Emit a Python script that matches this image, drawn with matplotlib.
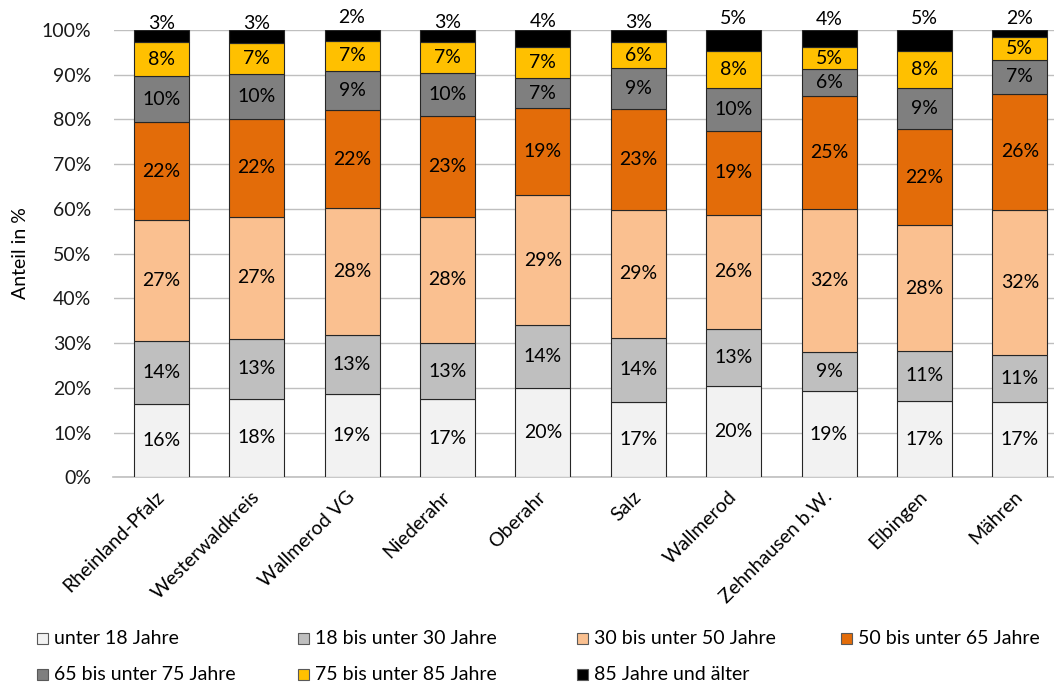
import matplotlib
matplotlib.use("Agg")
import matplotlib.pyplot as plt
from matplotlib.patches import Rectangle
from matplotlib.ticker import PercentFormatter, MultipleLocator

# Age structure by municipality (share of population, %)
categories = ["Rheinland-Pfalz", "Westerwaldkreis", "Wallmerod VG", "Niederahr",
              "Oberahr", "Salz", "Wallmerod", "Zehnhausen b.W.", "Elbingen", "Mähren"]

series_names = ["unter 18 Jahre", "18 bis unter 30 Jahre", "30 bis unter 50 Jahre",
                "50 bis unter 65 Jahre", "65 bis unter 75 Jahre", "75 bis unter 85 Jahre",
                "85 Jahre und älter"]

unter_18 = [16.3, 17.6, 18.7, 17.4, 19.9, 16.9, 20.4, 19.3, 17.0, 16.8]
von_18_bis_30 = [14.1, 13.4, 13.1, 12.7, 14.1, 14.3, 12.7, 8.7, 11.3, 10.6]
von_30_bis_50 = [27.1, 27.3, 28.3, 28.1, 29.1, 28.6, 25.6, 32.0, 28.0, 32.3]
von_50_bis_65 = [21.9, 21.8, 22.0, 22.6, 19.4, 22.6, 18.8, 25.2, 21.6, 26.1]
von_65_bis_75 = [10.3, 10.0, 8.7, 9.6, 6.7, 9.0, 9.6, 6.0, 9.1, 7.4]
von_75_bis_85 = [7.6, 7.1, 6.8, 7.0, 7.1, 6.0, 8.2, 4.9, 8.2, 5.2]
ab_85 = [2.7, 2.8, 2.4, 2.6, 3.7, 2.6, 4.7, 3.9, 4.8, 1.6]

series_values = [unter_18, von_18_bis_30, von_30_bis_50, von_50_bis_65,
                 von_65_bis_75, von_75_bis_85, ab_85]

colors = ["#F2F2F2", "#BFBFBF", "#FAC090", "#E36C09", "#7F7F7F", "#FFC000", "#000000"]

# extra lift (pixels) of the top-segment labels above the bar
top_label_lift = [0, 0, 6, 1, 2, 1, 5, 4, 5, 5]

FONT = "Lato"
FS = 14
plt.rcParams["font.family"] = [FONT, "DejaVu Sans"]

W, H = 1054, 686
fig = plt.figure(figsize=(W / 100, H / 100), dpi=100)
ax_left, ax_right = 113.5, 1054.0
ax_top, ax_bottom = 30.0, 477.3
ax = fig.add_axes([ax_left / W, 1 - ax_bottom / H,
                   (ax_right - ax_left) / W, (ax_bottom - ax_top) / H])

slot_px = 95.4
bar_width = 55 / slot_px
x = list(range(len(categories)))

bottoms = [0.0] * len(categories)
for name, vals, col in zip(series_names, series_values, colors):
    ax.bar(x, [v / 100 for v in vals], bottom=[b / 100 for b in bottoms],
           width=bar_width, color=col, edgecolor="#262626", linewidth=0.8,
           label=name, zorder=3)
    bottoms = [b + v for b, v in zip(bottoms, vals)]

# value labels
for s, vals in enumerate(series_values):
    base = [sum(series_values[k][i] for k in range(s)) for i in range(len(categories))]
    for i, v in enumerate(vals):
        txt = f"{v:.0f}%"
        if s == len(series_values) - 1:
            ax.annotate(txt, xy=(i, 1.0), xytext=(0, 1 + top_label_lift[i] * 0.72),
                        textcoords="offset points", ha="center", va="baseline",
                        fontsize=FS, color="black", zorder=5, annotation_clip=False)
        else:
            ax.text(i, (base[i] + v / 2) / 100, txt, ha="center", va="center",
                    fontsize=FS, color="black", zorder=5)

ax.set_ylim(0, 1)
ax.set_xlim(-0.5, -0.5 + (ax_right - ax_left) / slot_px)
ax.yaxis.set_major_locator(MultipleLocator(0.1))
ax.yaxis.set_major_formatter(PercentFormatter(1.0, decimals=0))
ax.grid(axis="y", color="#BFBFBF", linewidth=1.0, zorder=0)
ax.set_axisbelow(True)
for side in ["left", "right", "top"]:
    ax.spines[side].set_visible(False)
ax.spines["bottom"].set_color("#BFBFBF")
ax.spines["bottom"].set_linewidth(1.2)
ax.tick_params(axis="y", length=0, pad=16, labelsize=FS, labelcolor="#1a1a1a")
ax.tick_params(axis="x", length=0, pad=12, labelsize=FS)
ax.set_xticks(x)
ax.set_xticklabels(categories, rotation=45, ha="right", va="center",
                   rotation_mode="anchor")

fig.text(21 / W, 1 - 253 / H, "Anteil in %", rotation=90, ha="center",
         va="center", fontsize=FS)

# legend, four columns in two rows
col_x = [37, 298, 577, 841]
row_y = [638, 674]
box = 11
for i, (name, col) in enumerate(zip(series_names, colors)):
    cx = col_x[i % 4]
    cy = row_y[i // 4]
    fig.patches.append(Rectangle((cx / W, 1 - (cy + box / 2) / H), box / W, box / H,
                                 transform=fig.transFigure, facecolor=col,
                                 edgecolor="#595959", linewidth=0.8))
    fig.text((cx + box + 6) / W, 1 - cy / H, name, ha="left", va="center",
             fontsize=FS)

fig.savefig("out.png", dpi=100)
